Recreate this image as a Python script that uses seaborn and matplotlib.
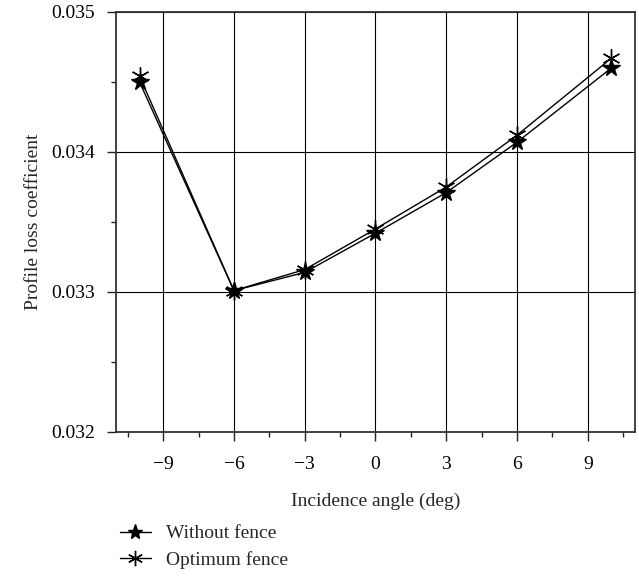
import matplotlib
matplotlib.use("Agg")
import matplotlib.pyplot as plt
from matplotlib.ticker import MultipleLocator
from matplotlib.lines import Line2D
import seaborn as sns

angles = [-10, -6, -3, 0, 3, 6, 10]
without_fence = [0.03450, 0.03301, 0.03314, 0.03342, 0.03371, 0.03407, 0.03460]
optimum_fence = [0.03454, 0.03301, 0.03316, 0.03345, 0.03375, 0.03412, 0.03467]
series_names = ["Without fence", "Optimum fence"]
series_markers = ["*", (6, 2, 0)]

sns.set_style("ticks")
plt.rcParams["font.family"] = ["Liberation Serif", "DejaVu Serif"]
plt.rcParams["font.size"] = 14

fig = plt.figure(figsize=(6.39, 5.79), dpi=100)
ax = fig.add_axes([0.1815, 0.2539, 0.8122, 0.7254])

for vals, mk in zip([without_fence, optimum_fence], series_markers):
    sns.lineplot(x=angles, y=vals, color="black", marker=mk, markersize=13,
                 linewidth=1.0, markeredgecolor="black", markeredgewidth=1.0,
                 ax=ax, legend=False)

ax.set_xlim(-11, 11)
ax.set_ylim(0.032, 0.035)
ax.set_xticks([-9, -6, -3, 0, 3, 6, 9])
ax.set_xticklabels(["\u22129", "\u22126", "\u22123", "0", "3", "6", "9"])
ax.xaxis.set_minor_locator(MultipleLocator(1.5))
ax.set_yticks([0.032, 0.033, 0.034, 0.035])
ax.set_yticklabels(["0.032", "0.033", "0.034", "0.035"])
ax.yaxis.set_minor_locator(MultipleLocator(0.0005))
ax.tick_params(which="major", length=6.5, width=1, direction="out", labelsize=14,
               colors="#222222", labelcolor="black")
ax.tick_params(which="minor", length=3.8, width=1, direction="out", colors="#222222")
ax.tick_params(axis="x", which="major", pad=11)
ax.tick_params(axis="y", which="major", pad=8.5)
ax.grid(True, which="major", color="black", linewidth=0.8)
for s in ax.spines.values():
    s.set_visible(True)
    s.set_linewidth(1.3)
    s.set_color("#333333")

ax.set_xlabel("Incidence angle (deg)", fontsize=14, labelpad=14)
ax.set_ylabel("Profile loss coefficient", fontsize=14, labelpad=7)

handles = [Line2D([], [], color="black", lw=1, marker=mk, markersize=11)
           for mk in series_markers]
fig.legend(handles, series_names, loc="upper left", bbox_to_anchor=(0.175, 0.107),
           frameon=False, handlelength=1.6, fontsize=14, labelspacing=0.45,
           borderaxespad=0, handletextpad=0.8)

fig.savefig("out.png", dpi=100)
